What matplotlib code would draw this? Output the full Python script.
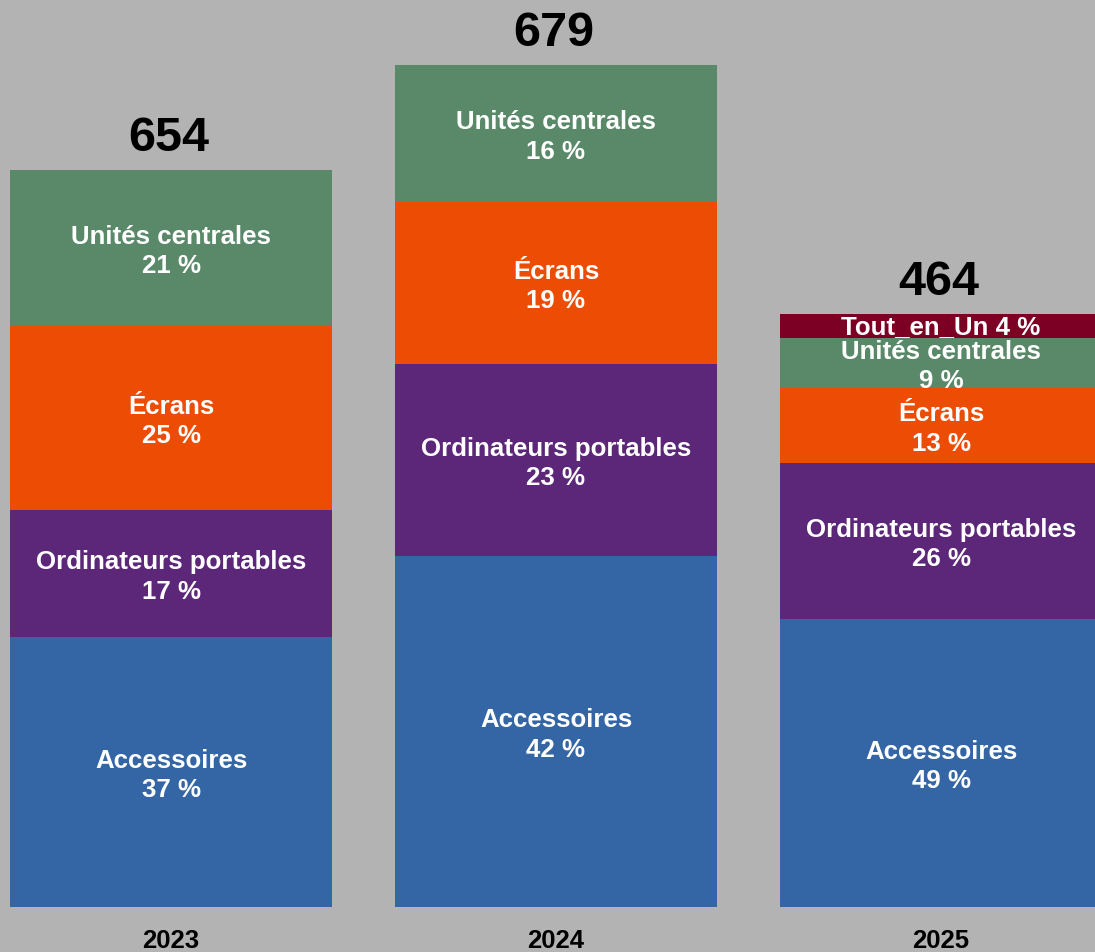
import matplotlib.pyplot as plt
import numpy as np

plt.rcParams['font.family'] = ['Liberation Sans', 'DejaVu Sans']

years = ['2023', '2024', '2025']
totals = [654, 679, 464]
series = ['Accessoires', 'Ordinateurs portables', 'Écrans', 'Unités centrales', 'Tout_en_Un']
# segment heights (arbitrary units)
acc = [270, 351, 288]
ordi = [127, 192, 156]
ecr = [184, 162, 75]
uc = [156, 137, 50]
tout = [0, 0, 24]
# percentages shown on the bars
pct_acc = [37, 42, 49]
pct_ordi = [17, 23, 26]
pct_ecr = [25, 19, 13]
pct_uc = [21, 16, 9]
pct_tout = [None, None, 4]

colors = ['#3465a4', '#5c2778', '#ed4c05', '#5a896a', '#7b0023']

fig = plt.figure(figsize=(10.95, 9.53), dpi=100)
fig.patch.set_facecolor('#b3b3b3')
ax = fig.add_axes([0, 45 / 953, 1, 908 / 953])
ax.set_facecolor('#b3b3b3')

x = np.arange(len(years))
width = 0.836
vals = [acc, ordi, ecr, uc, tout]
pcts = [pct_acc, pct_ordi, pct_ecr, pct_uc, pct_tout]
bottom = np.zeros(len(years))
for name, v, p, c in zip(series, vals, pcts, colors):
    v = np.array(v, dtype=float)
    keep = v > 0
    ax.bar(x[keep], v[keep], width, bottom=bottom[keep], color=c, linewidth=0)
    for i in range(len(years)):
        if v[i] <= 0:
            continue
        yc = bottom[i] + v[i] / 2
        if name == 'Tout_en_Un':
            txt = f'{name} {p[i]} %'
        else:
            txt = f'{name}\n{p[i]} %'
            yc -= 2.5
        ax.text(x[i], yc, txt, ha='center', va='center', color='white',
                fontsize=18.6, fontweight='bold', linespacing=1.3)
    bottom += v

for i in range(len(years)):
    ax.text(x[i] - 0.005, bottom[i] + 10, str(totals[i]), ha='center', va='bottom',
            fontsize=35, fontweight='bold', color='black')
    ax.text(x[i], -33, years[i], ha='center', va='center', fontsize=18.5,
            fontweight='bold', color='black', clip_on=False)

ax.set_xlim(-171 / 385, 924 / 385)
ax.set_ylim(0, 908)
ax.axis('off')

fig.savefig('out.png', dpi=100, facecolor=fig.get_facecolor())
